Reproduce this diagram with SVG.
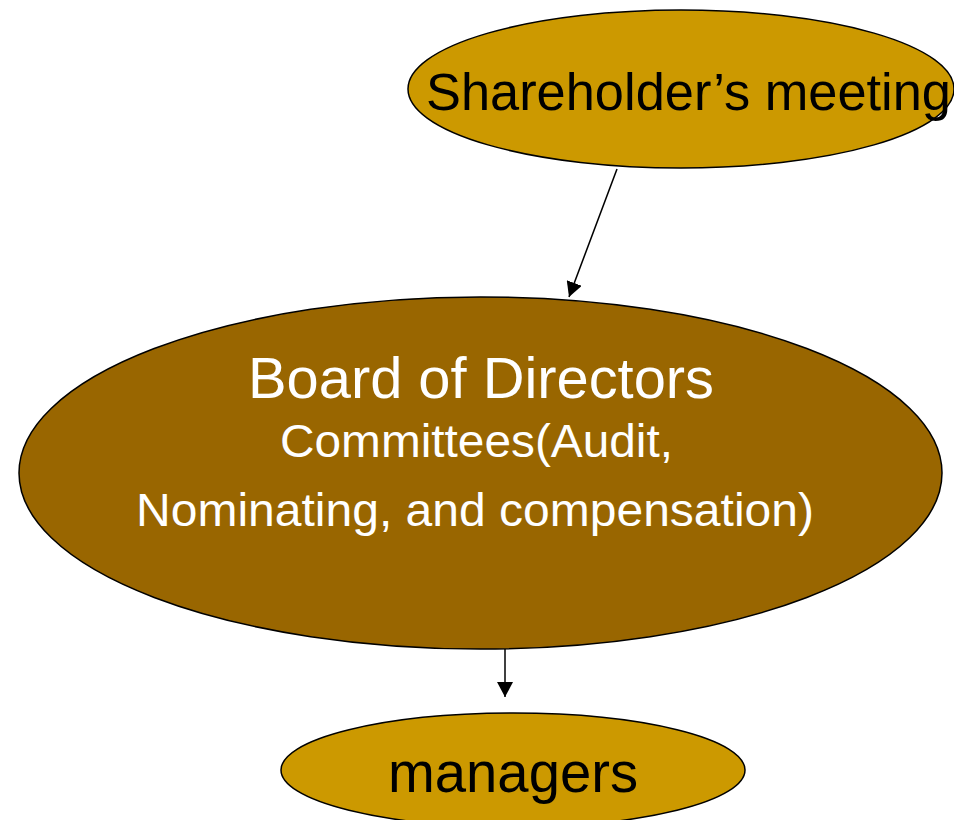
<svg xmlns="http://www.w3.org/2000/svg" width="954" height="820" viewBox="0 0 954 820">
<defs>
<style>
.light{fill:#CC9900;stroke:#000;stroke-width:1.5}
.dark{fill:#996600;stroke:#000;stroke-width:1.5}
.t{font-family:"Liberation Sans",Arial,sans-serif}
.conn{stroke:#000;stroke-width:1.5;fill:none;marker-end:url(#ah)}
</style>
<marker id="ah" markerUnits="userSpaceOnUse" markerWidth="16" markerHeight="16" viewBox="0 0 16 16" refX="15" refY="8" orient="auto">
<path d="M0,0 L15,8 L0,16 Z" fill="#000"/>
</marker>
</defs>
<rect width="954" height="820" fill="#fff"/>
<g id="shareholders">
<ellipse class="light" cx="681" cy="89" rx="273" ry="79"/>
<text class="t" x="426" y="110" font-size="51" textLength="525" lengthAdjust="spacingAndGlyphs" fill="#000">Shareholder’s meeting</text>
</g>
<g id="board">
<ellipse class="dark" cx="480.5" cy="473" rx="461.5" ry="176"/>
<text class="t" x="248" y="398" font-size="58" textLength="466" lengthAdjust="spacingAndGlyphs" fill="#fff">Board of Directors</text>
<text class="t" x="280" y="457" font-size="47" textLength="393" lengthAdjust="spacingAndGlyphs" fill="#fff">Committees(Audit,</text>
<text class="t" x="136" y="526" font-size="47" textLength="678" lengthAdjust="spacingAndGlyphs" fill="#fff">Nominating, and compensation)</text>
</g>
<g id="managers">
<ellipse class="light" cx="513" cy="770" rx="232" ry="57"/>
<text class="t" x="388" y="792" font-size="57" textLength="250" lengthAdjust="spacingAndGlyphs" fill="#000">managers</text>
</g>
<g id="connectors">
<line class="conn" x1="617" y1="169" x2="569" y2="297"/>
<line class="conn" x1="505" y1="649" x2="505" y2="697"/>
</g>
</svg>
